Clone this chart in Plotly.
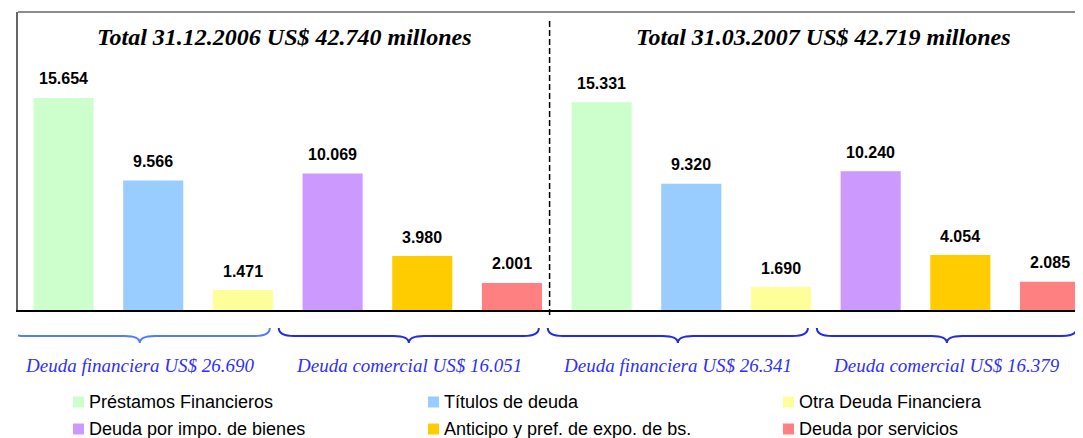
import plotly.graph_objects as go

# ---------------- data ----------------
series_names = ["Préstamos Financieros", "Títulos de deuda", "Otra Deuda Financiera",
                "Deuda por impo. de bienes", "Anticipo y pref. de expo. de bs.", "Deuda por servicios"]
series_colors = ["#CCFFCC", "#99CCFF", "#FFFF99", "#CC99FF", "#FFCC00", "#FF8080"]
values_2006 = [15654, 9566, 1471, 10069, 3980, 2001]
values_2007 = [15331, 9320, 1690, 10240, 4054, 2085]
period_titles = ["Total 31.12.2006 US$ 42.740 millones", "Total 31.03.2007 US$ 42.719 millones"]
group_labels = ["Deuda financiera US$ 26.690", "Deuda comercial US$ 16.051",
                "Deuda financiera US$ 26.341", "Deuda comercial US$ 16.379"]
group_members = [[0, 1, 2], [3, 4, 5], [6, 7, 8], [9, 10, 11]]
brace_colors = ["#4f7dff", "#1f2be6", "#1f2be6", "#1f2be6"]

def fmt(v):
    return f"{v:,}".replace(",", ".")

# the page body adds an 8px margin, so the figure is 8px smaller and offset
OFF = 8
W, H = 1083 - OFF, 438 - OFF
ML, MR, MT, MB = 10, 0, 4, 128
PW, PH = W - ML - MR, H - MT - MB

def px_x(p):
    return (p - OFF - ML) / PW

def px_y(p):
    return (H - MB - (p - OFF)) / PH

n = len(series_names)
x_min, x_max = -0.508, 11.368
sep_x = 5.42

fig = go.Figure()
for i in range(n):
    fig.add_trace(go.Bar(
        x=[i, i + n], y=[values_2006[i], values_2007[i]],
        name=series_names[i], marker=dict(color=series_colors[i], line=dict(width=0)),
        width=0.67, hoverinfo="y+name", showlegend=False,
    ))

annotations = []
for i in range(n):
    for xi, v in ((i, values_2006[i]), (i + n, values_2007[i])):
        annotations.append(dict(x=xi, y=v, xref="x", yref="y", text=fmt(v), showarrow=False,
                                yshift=19, yanchor="middle",
                                font=dict(family="Arial, Liberation Sans", size=16, color="#000000", weight="bold")))

# panel titles
panel_centers = [2.456, 8.47]
for t, xc in zip(period_titles, panel_centers):
    annotations.append(dict(x=xc, y=px_y(37), xref="x", yref="paper", text=f"<b><i>{t}</i></b>",
                            showarrow=False, yanchor="middle",
                            font=dict(family="Liberation Serif, Times New Roman, serif", size=24, color="#000000")))

shapes = []
# braces + labels
yt, ym, yp = px_y(328), px_y(336), px_y(343)
r = 0.17
for members, lab, col in zip(group_members, group_labels, brace_colors):
    xa = members[0] - 0.6
    xb = members[-1] + 0.3
    xm = (xa + xb) / 2
    path = (f"M {xa},{yt} Q {xa},{ym} {xa + r},{ym} L {xm - r},{ym} "
            f"Q {xm},{ym} {xm},{yp} Q {xm},{ym} {xm + r},{ym} L {xb - r},{ym} "
            f"Q {xb},{ym} {xb},{yt}")
    shapes.append(dict(type="path", path=path, xref="x", yref="paper",
                       line=dict(color=col, width=2)))
    annotations.append(dict(x=xm, y=px_y(365), xref="x", yref="paper", text=f"<i>{lab}</i>",
                            showarrow=False, yanchor="middle",
                            font=dict(family="Liberation Serif, Times New Roman, serif", size=19, color="#2f2fff")))

# separator dashed line
shapes.append(dict(type="line", x0=sep_x, x1=sep_x, y0=px_y(21), y1=px_y(318), xref="x", yref="paper",
                   line=dict(color="#000000", width=1.5, dash="6px,3px")))
# top border
shapes.append(dict(type="line", x0=0, x1=1, y0=1, y1=1, xref="paper", yref="paper",
                   line=dict(color="#666666", width=1.5)))

# legend (3 columns x 2 rows) built from the series arrays
col_x = [73, 428, 783]
row_y = [402, 429]
for k, (name, col) in enumerate(zip(series_names, series_colors)):
    cx = col_x[k % 3]
    cy = row_y[k // 3]
    shapes.append(dict(type="rect", xref="paper", yref="paper",
                       x0=px_x(cx), x1=px_x(cx + 11), y0=px_y(cy - 5.5), y1=px_y(cy + 5.5),
                       fillcolor=col, line=dict(width=0)))
    annotations.append(dict(x=px_x(cx + 15), y=px_y(cy), xref="paper", yref="paper", text=name,
                            showarrow=False, xanchor="left", yanchor="middle", borderpad=0,
                            font=dict(family="Arial, Liberation Sans", size=18, color="#000000")))

fig.update_layout(
    width=W, height=H,
    margin=dict(l=ML, r=MR, t=MT, b=MB, autoexpand=False),
    paper_bgcolor="white", plot_bgcolor="white",
    barmode="overlay",
    showlegend=False,
    xaxis=dict(range=[x_min, x_max], showticklabels=False, ticks="", showgrid=False, zeroline=False,
               showline=True, linecolor="#000000", linewidth=1.5, fixedrange=True),
    yaxis=dict(range=[0, 22000], showticklabels=False, ticks="", showgrid=False, zeroline=False,
               showline=True, linecolor="#666666", linewidth=1.5, fixedrange=True),
    annotations=annotations,
    shapes=shapes,
)

fig.write_html("out.html")
